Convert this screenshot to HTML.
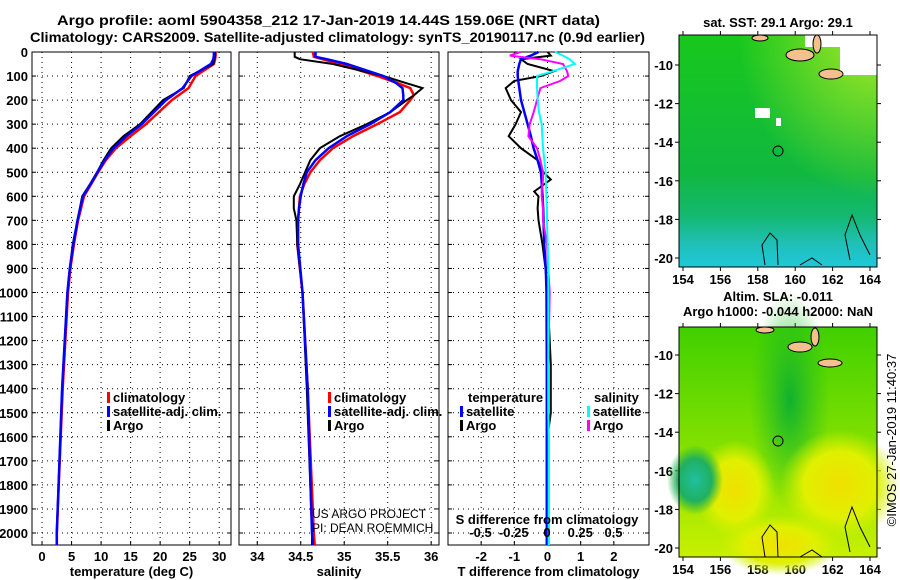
<!DOCTYPE html>
<html><head><meta charset="utf-8"><style>
body{margin:0;background:#fff;width:900px;height:580px;overflow:hidden}
svg{display:block;font-family:"Liberation Sans",sans-serif}
.b{font-weight:bold;font-size:13px}
</style></head><body>
<svg id="s" width="900" height="580">
<defs>
<linearGradient id="g1" x1="0" y1="0" x2="0" y2="1">
<stop offset="0" stop-color="#18c81c"/><stop offset="0.6" stop-color="#10b840"/><stop offset="0.78" stop-color="#14b870"/><stop offset="0.9" stop-color="#20c0b8"/><stop offset="1" stop-color="#20c8d8"/></linearGradient>
<radialGradient id="y1" cx="1" cy="0" r="0.7"><stop offset="0" stop-color="#a8e828"/><stop offset="1" stop-color="#a8e828" stop-opacity="0"/></radialGradient>
<linearGradient id="g2" x1="0" y1="0" x2="0" y2="1"><stop offset="0" stop-color="#40d000"/><stop offset="0.5" stop-color="#80e000"/><stop offset="1" stop-color="#c8f000"/></linearGradient>
<radialGradient id="yb" cx="0.5" cy="0.5" r="0.5"><stop offset="0" stop-color="#f0e000"/><stop offset="0.6" stop-color="#e0f000"/><stop offset="1" stop-color="#d0f000" stop-opacity="0"/></radialGradient>
<radialGradient id="tb" cx="0.5" cy="0.5" r="0.5"><stop offset="0" stop-color="#20c0a0"/><stop offset="0.6" stop-color="#20b060"/><stop offset="1" stop-color="#20b040" stop-opacity="0"/></radialGradient>
<radialGradient id="gb" cx="0.5" cy="0.5" r="0.5"><stop offset="0" stop-color="#10b030"/><stop offset="1" stop-color="#20c020" stop-opacity="0"/></radialGradient>
</defs>
<text class="b" x="57" y="25" textLength="543" lengthAdjust="spacingAndGlyphs" style="font-size:14px">Argo profile: aoml 5904358_212 17-Jan-2019 14.44S 159.06E (NRT data)</text>
<text class="b" x="30" y="42" textLength="615" lengthAdjust="spacingAndGlyphs" style="font-size:14px">Climatology: CARS2009. Satellite-adjusted climatology: synTS_20190117.nc (0.9d earlier)</text>
<g id="plots"></g>
<g id="map1">
<rect x="679" y="35" width="198" height="232" fill="url(#g1)"/>
<rect x="679" y="35" width="198" height="232" fill="url(#y1)"/>
<rect x="840" y="35" width="37" height="40" fill="#fff"/>
<rect x="805" y="35" width="40" height="12" fill="#fff"/>
<rect x="755" y="108" width="15" height="10" fill="#fff"/><rect x="776" y="118" width="5" height="8" fill="#fff"/>
<ellipse cx="800" cy="55" rx="14" ry="6" fill="#f4c090" stroke="#000"/><ellipse cx="817" cy="44" rx="4" ry="9" fill="#f4c090" stroke="#000"/><ellipse cx="831" cy="74" rx="12" ry="5" fill="#f4c090" stroke="#000"/><ellipse cx="760" cy="38" rx="8" ry="3" fill="#f4c090" stroke="#000"/>
<circle cx="778" cy="151" r="5" fill="none" stroke="#000"/>
<path d="M765 265 L762 245 L770 233 L777 240 L778 265 M850 260 L845 235 L852 215 L860 235 L870 255 M800 265 L812 258 L822 265" fill="none" stroke="#000"/>
<rect x="679" y="35" width="198" height="232" fill="none" stroke="#000"/>
</g>
<g id="map2">
<rect x="679" y="327" width="198" height="230" fill="url(#g2)"/>
<ellipse cx="790" cy="400" rx="40" ry="110" fill="url(#gb)"/>
<ellipse cx="840" cy="485" rx="60" ry="55" fill="url(#yb)"/>
<ellipse cx="735" cy="490" rx="40" ry="50" fill="url(#yb)"/>
<ellipse cx="780" cy="545" rx="60" ry="30" fill="url(#yb)"/>
<ellipse cx="695" cy="480" rx="28" ry="35" fill="url(#tb)"/>
<ellipse cx="800" cy="347" rx="12" ry="5" fill="#f4c090" stroke="#000"/><ellipse cx="815" cy="337" rx="4" ry="9" fill="#f4c090" stroke="#000"/><ellipse cx="830" cy="363" rx="12" ry="4" fill="#f4c090" stroke="#000"/><ellipse cx="765" cy="330" rx="9" ry="3" fill="#f4c090" stroke="#000"/>
<circle cx="778" cy="441" r="5" fill="none" stroke="#000"/>
<path d="M765 557 L762 537 L770 525 L777 532 L778 557 M850 552 L845 527 L852 507 L860 527 L870 547 M800 557 L812 550 L822 557" fill="none" stroke="#000"/>
<rect x="679" y="327" width="198" height="230" fill="none" stroke="#000"/>
</g>
<text class="b" x="778" y="27" text-anchor="middle">sat. SST: 29.1 Argo: 29.1</text>
<text class="b" x="778" y="301" text-anchor="middle">Altim. SLA: -0.011</text>
<text class="b" x="778" y="316" text-anchor="middle">Argo h1000: -0.044 h2000: NaN</text>
<text x="896" y="440" font-size="13" text-anchor="middle" transform="rotate(-90 896 440)">©IMOS 27-Jan-2019 11:40:37</text>
<text x="312" y="518" font-size="12">US ARGO PROJECT</text>
<text x="312" y="532" font-size="12">PI: DEAN ROEMMICH</text>
</svg>
<script>
const depthsT=[0,15,30,50,100,150,200,300,350,400,450,500,550,600,700,800,900,1000,1400,2000,2050];
const tempArgo=[29.3,29.3,29.2,29,25,24,20.5,16.6,13.8,11.7,10.4,9.3,8.1,6.8,6,5.2,4.7,4.3,3.4,2.5,2.5];
const tempClim=[29.4,29.4,29.3,29.1,26,24.8,22,17.6,15,12.5,10.8,9.5,8.3,7.1,6.1,5.4,4.8,4.4,3.5,2.5,2.5];
const tempSat=[29.1,29.1,29,28.6,25.3,23.8,21,16.9,14.3,12.1,10.6,9.4,8.2,6.9,6,5.3,4.7,4.3,3.4,2.5,2.5];
const depthsS=[0,20,30,50,100,130,150,180,200,250,300,350,400,450,500,550,600,650,700,800,1000,1400,2000,2050];
const salArgo=[34.43,34.43,34.49,34.87,35.45,35.72,35.9,35.8,35.72,35.53,35.26,34.95,34.72,34.61,34.55,34.49,34.42,34.42,34.45,34.46,34.52,34.57,34.63,34.63];
const salClim=[34.64,34.65,34.75,34.95,35.38,35.62,35.76,35.8,35.76,35.64,35.38,35.1,34.87,34.72,34.61,34.54,34.49,34.48,34.47,34.46,34.52,34.58,34.65,34.66];
const salSat=[34.67,34.67,34.8,35.03,35.45,35.6,35.67,35.68,35.68,35.53,35.3,35.03,34.82,34.67,34.57,34.53,34.5,34.48,34.47,34.47,34.52,34.58,34.63,34.64];
const depthsD=[0,15,30,50,80,100,120,150,200,250,300,350,400,450,500,530,580,600,650,700,800,900,1000,1300,1500,1600,2050];
const dTArgo=[0,0.1,-0.8,-0.6,0.2,-0.2,-1.0,-1.26,-1.1,-0.8,-0.96,-1.17,-0.8,-0.3,-0.12,0.1,-0.4,-0.27,-0.3,-0.27,-0.15,-0.06,0,0.1,0.1,0,0];
const dTSat=[-0.27,-0.5,-0.8,-0.85,-0.9,-0.9,-0.88,-0.85,-0.8,-0.7,-0.6,-0.5,-0.42,-0.3,-0.2,-0.18,-0.16,-0.15,-0.13,-0.12,-0.1,-0.05,-0.03,-0.02,-0.02,-0.02,-0.02];
const dSSat=[0.06,0.12,0.17,0.21,0.045,-0.075,-0.075,-0.075,-0.07,-0.06,-0.04,-0.035,-0.03,-0.02,-0.01,-0.01,-0.005,-0.005,0,0,0.005,0.01,0.01,0.01,0.01,0.015,0.015];
const dSArgo=[-0.2,-0.28,-0.05,0.12,0.15,0.16,0.1,-0.05,-0.075,-0.1,-0.13,-0.14,-0.075,-0.05,-0.03,-0.03,-0.04,-0.04,-0.03,-0.03,0,0.01,0.02,0.01,0.01,0.01,0.01];
const depthTicks=[0,100,200,300,400,500,600,700,800,900,1000,1100,1200,1300,1400,1500,1600,1700,1800,1900,2000];
const tempTicks=[0,5,10,15,20,25,30];
const salTicks=[34,34.5,35,35.5,36];
const salTickLabels=["34","34.5","35","35.5","36"];
const dTTicks=[-2,-1,0,1,2];
const dSTicks=[-0.5,-0.25,0,0.25,0.5];
const dSTickLabels=["-0.5","-0.25","0","0.25","0.5"];
const lonTicks=[154,156,158,160,162,164];
const latTicks1=[-10,-12,-14,-16,-18,-20];

const NS='http://www.w3.org/2000/svg';
const root=document.getElementById('plots');
function mk(tag,attrs,parent){const e=document.createElementNS(NS,tag);for(const k in attrs)e.setAttribute(k,attrs[k]);(parent||root).appendChild(e);return e;}
const top0=52,bot=545;
const yD=d=>top0+d*0.2405;
const panels=[
 {x0:32,x1:231,v0:-1.7,v1:32,ticks:tempTicks,labels:tempTicks.map(String),title:'temperature (deg C)',name:'temperature-panel'},
 {x0:239,x1:439,v0:33.79,v1:36.09,ticks:salTicks,labels:salTickLabels,title:'salinity',name:'salinity-panel'},
 {x0:448,x1:649,v0:-3.0,v1:3.06,ticks:dTTicks,labels:dTTicks.map(String),title:'T difference from climatology',name:'difference-panel'}
];
panels.forEach((p,i)=>{
 const g=mk('g',{});
 
 
 p.x=v=>p.x0+(v-p.v0)/(p.v1-p.v0)*(p.x1-p.x0);
 depthTicks.forEach(d=>{mk('line',{x1:p.x0,x2:p.x1,y1:yD(d),y2:yD(d),stroke:'#000','stroke-dasharray':'1,4'},g);
  mk('line',{x1:p.x0,x2:p.x0+4,y1:yD(d),y2:yD(d),stroke:'#000'},g);mk('line',{x1:p.x1-4,x2:p.x1,y1:yD(d),y2:yD(d),stroke:'#000'},g);});
 p.ticks.forEach((t,j)=>{const x=p.x(t);
  mk('line',{x1:x,x2:x,y1:top0,y2:bot,stroke:'#000','stroke-dasharray':'1,4'},g);
  mk('line',{x1:x,x2:x,y1:bot,y2:bot-4,stroke:'#000'},g);
  const tl=mk('text',{x:x,y:561,'text-anchor':'middle',class:'b'},g);tl.textContent=p.labels[j];
  
  });
 mk('rect',{x:p.x0,y:top0,width:p.x1-p.x0,height:bot-top0,fill:'none',stroke:'#000'},g);
 const at=mk('text',{x:(p.x0+p.x1)/2,y:576,'text-anchor':'middle',class:'b'},g);at.textContent=p.title;
 
 
});
depthTicks.forEach(d=>{const t=mk('text',{x:28,y:yD(d)+5,'text-anchor':'end',class:'b'});t.textContent=d;
 
 });
function line(xs,ds,fx,color,name,w){const pts=ds.map((d,i)=>fx(xs[i]).toFixed(1)+','+yD(Math.min(d,2054)).toFixed(1)).join(' ');
 const e=mk('polyline',{points:pts,fill:'none',stroke:color,'stroke-width':w||2});
 
 }
const P=panels;
line(tempClim,depthsT,P[0].x,'#f00','temp-climatology-line',2.5);
line(tempArgo,depthsT,P[0].x,'#000','temp-argo-line',2);
line(tempSat,depthsT,P[0].x,'#00f','temp-satellite-line',2.5);
line(salClim,depthsS,P[1].x,'#f00','sal-climatology-line',2.5);
line(salArgo,depthsS,P[1].x,'#000','sal-argo-line',2);
line(salSat,depthsS,P[1].x,'#00f','sal-satellite-line',2.5);
const xS=v=>547+v*133;
line(dTArgo,depthsD,P[2].x,'#000','dT-argo-line',2);
line(dTSat,depthsD,P[2].x,'#00f','dT-satellite-line',2.5);
line(dSArgo,depthsD,xS,'#f0f','dS-argo-line',2);
line(dSSat,depthsD,xS,'#0ff','dS-satellite-line',2);
dSTicks.forEach((t,j)=>{const tl=mk('text',{x:xS(t),y:537,'text-anchor':'middle',class:'b'});tl.textContent=dSTickLabels[j];
 
 });
const st=mk('text',{x:547,y:524,'text-anchor':'middle',class:'b'});st.textContent='S difference from climatology';


function leg(x,y,color,label){mk('rect',{x:x,y:y-10,width:3,height:11,fill:color});
 const t=mk('text',{x:x+6,y:y,class:'b'});t.textContent=label;
 
 }
[[107,'#f00','climatology'],[107,'#00f','satellite-adj. clim.'],[107,'#000','Argo']].forEach((l,i)=>leg(l[0],402+i*14,l[1],l[2]));
[[328,'#f00','climatology'],[328,'#00f','satellite-adj. clim.'],[328,'#000','Argo']].forEach((l,i)=>leg(l[0],402+i*14,l[1],l[2]));
{const t=mk('text',{x:468,y:402,class:'b'});t.textContent='temperature';
 
 }
{const t=mk('text',{x:594,y:402,class:'b'});t.textContent='salinity';
 
 }
leg(460,416,'#00f','satellite');leg(460,430,'#000','Argo');
leg(587,416,'#0ff','satellite');leg(587,430,'#f0f','Argo');
function mapAxes(yTop,yBot,lat0,pxLat){
 const lonX=l=>683+(l-154)*18.7;
 lonTicks.forEach(l=>{const x=lonX(l);mk('line',{x1:x,x2:x,y1:yTop,y2:yTop-4,stroke:'#000'});mk('line',{x1:x,x2:x,y1:yBot,y2:yBot+4,stroke:'#000'});
  const t=mk('text',{x:x,y:yBot+17,'text-anchor':'middle',class:'b'});t.textContent=l;
  
  });
 latTicks1.forEach(l=>{const y=lat0+(-10-l)*pxLat;if(y<yTop||y>yBot)return;
  mk('line',{x1:675,x2:679,y1:y,y2:y,stroke:'#000'});mk('line',{x1:877,x2:881,y1:y,y2:y,stroke:'#000'});
  const t=mk('text',{x:673,y:y+5,'text-anchor':'end',class:'b'});t.textContent=l;
  
  });
}
mapAxes(35,267,65,19.3);
mapAxes(327,557,355,19.3);
</script>
</body></html>
